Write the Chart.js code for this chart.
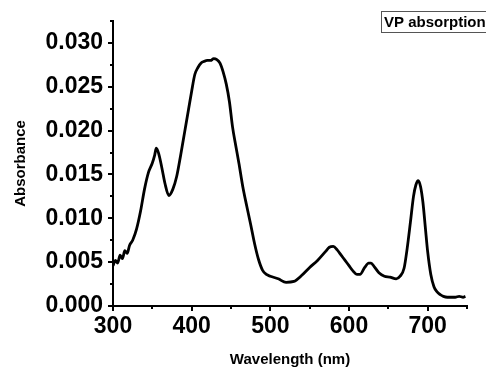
<!DOCTYPE html>
<html>
<head>
<meta charset="utf-8">
<script src="https://cdn.jsdelivr.net/npm/chart.js@4.4.1/dist/chart.umd.min.js"></script>
<style>
  html, body { margin: 0; padding: 0; background: #fff; }
  #wrap { width: 486px; height: 369px; position: relative; }
</style>
</head>
<body>
<div id="wrap"><canvas id="spectrumChart"></canvas></div>
<script>
// Spectrum data
const wavelength = [
  300, 303, 306, 309, 312, 315, 318, 321, 325, 330, 335, 340, 345, 350, 353, 355,
  358, 362, 366, 371, 376, 381, 386, 391, 396, 400, 404, 408, 412, 416, 420, 424,
  428, 432, 436, 440, 444, 448, 452, 456, 460, 465, 470, 475, 480, 485, 490, 495,
  500, 510, 520, 530, 540, 550, 560, 570, 575, 580, 585, 590, 595, 600, 605, 610,
  614, 620, 625, 628, 632, 638, 645, 652, 660, 665, 670, 674, 678, 682, 685, 688,
  691, 694, 697, 700, 704, 708, 712, 716, 720, 725, 730, 735, 740, 745, 748
];
const absorbance = [
  0.0046, 0.0052, 0.0049, 0.0058, 0.0054, 0.0063, 0.0060, 0.0069, 0.0075, 0.0088,
  0.0108, 0.0133, 0.0152, 0.0163, 0.0172, 0.0180, 0.0174, 0.0158, 0.0140, 0.0126,
  0.0133, 0.0148, 0.0172, 0.0198, 0.0224, 0.0245, 0.0264, 0.0272, 0.0277, 0.0279,
  0.0280, 0.0280, 0.0282, 0.0281, 0.0277, 0.0267, 0.0253, 0.0233, 0.0204, 0.0183,
  0.0163, 0.0136, 0.0114, 0.0093, 0.0071, 0.0053, 0.0041, 0.0036, 0.0034, 0.0031,
  0.0027, 0.0028, 0.0035, 0.0044, 0.0052, 0.0062, 0.0067, 0.0068, 0.0064, 0.0058,
  0.0052, 0.0046, 0.0040, 0.0036, 0.0036, 0.0044, 0.0049, 0.0049, 0.0045, 0.0038,
  0.0034, 0.0033, 0.0031, 0.0034, 0.0043, 0.0066, 0.0095, 0.0125, 0.0138, 0.0143,
  0.0136, 0.0118, 0.0090, 0.0062, 0.0036, 0.0022, 0.0016, 0.0013, 0.0011, 0.0010,
  0.0010, 0.0010, 0.0011, 0.0010, 0.0011
];

// Tick labels
const xTicks = [300, 400, 500, 600, 700];
const yTicks = [0, 0.005, 0.010, 0.015, 0.020, 0.025, 0.030];
const xMinorTicks = [350, 450, 550, 650, 750];
const yMinorTicks = [0.0025, 0.0075, 0.0125, 0.0175, 0.0225, 0.0275, 0.0325];

const seriesLabel = "VP absorption";
const FONT = "'Liberation Sans', Arial, sans-serif";

// Minor ticks + boxed legend
const extrasPlugin = {
  id: "extras",
  afterDraw(chart) {
    const ctx = chart.ctx;
    const x = chart.scales.x;
    const y = chart.scales.y;
    const area = chart.chartArea;
    ctx.save();
    ctx.strokeStyle = "#000";
    ctx.lineWidth = 2;
    xMinorTicks.forEach((v) => {
      const px = Math.round(x.getPixelForValue(v));
      ctx.beginPath();
      ctx.moveTo(px, area.bottom);
      ctx.lineTo(px, area.bottom + 3);
      ctx.stroke();
    });
    yMinorTicks.forEach((v) => {
      const py = Math.round(y.getPixelForValue(v));
      ctx.beginPath();
      ctx.moveTo(area.left, py);
      ctx.lineTo(area.left - 3, py);
      ctx.stroke();
    });

    // legend box
    ctx.font = "bold 15px " + FONT;
    const w = ctx.measureText(seriesLabel).width;
    const bx = 381, by = 11, bh = 21;
    ctx.lineWidth = 1;
    ctx.strokeStyle = "#555";
    ctx.strokeRect(bx + 0.5, by + 0.5, w + 8, bh);
    ctx.fillStyle = "#000";
    ctx.textBaseline = "middle";
    ctx.textAlign = "left";
    ctx.fillText(seriesLabel, bx + 3, by + bh / 2 + 1);
    ctx.restore();
  },
};

const ctx = document.getElementById("spectrumChart").getContext("2d");
new Chart(ctx, {
  type: "line",
  data: {
    datasets: [
      {
        label: seriesLabel,
        data: wavelength.map((w, i) => ({ x: w, y: absorbance[i] })),
        borderColor: "#000",
        borderWidth: 2.8,
        pointRadius: 0,
        fill: false,
        cubicInterpolationMode: "monotone",
      },
    ],
  },
  options: {
    responsive: true,
    maintainAspectRatio: false,
    animation: false,
    layout: { padding: { top: 21, right: 19, left: 0, bottom: 0 } },
    plugins: {
      legend: { display: false },
      tooltip: { enabled: false },
    },
    scales: {
      x: {
        type: "linear",
        min: 300,
        max: 750,
        afterBuildTicks: (scale) => {
          scale.ticks = xTicks.map((v) => ({ value: v }));
        },
        afterFit: (scale) => {
          scale.height = 63;
        },
        grid: {
          drawOnChartArea: false,
          drawTicks: true,
          tickLength: 5,
          color: "#000",
          lineWidth: 2,
        },
        border: { display: true, color: "#000", width: 2 },
        ticks: {
          color: "#000",
          padding: 2,
          maxRotation: 0,
          font: { family: FONT, size: 23, weight: "bold" },
        },
        title: {
          display: true,
          text: "Wavelength (nm)",
          color: "#000",
          padding: { top: 0, bottom: 0 },
          font: { family: FONT, size: 15, weight: "bold" },
        },
      },
      y: {
        min: 0,
        max: 0.0325,
        afterBuildTicks: (scale) => {
          scale.ticks = yTicks.map((v) => ({ value: v }));
        },
        afterFit: (scale) => {
          scale.width = 113;
        },
        grid: {
          drawOnChartArea: false,
          drawTicks: true,
          tickLength: 5,
          color: "#000",
          lineWidth: 2,
        },
        border: { display: true, color: "#000", width: 2 },
        ticks: {
          color: "#000",
          padding: 5,
          callback: (v) => v.toFixed(3),
          font: { family: FONT, size: 23, weight: "bold" },
        },
        title: {
          display: true,
          text: "Absorbance",
          color: "#000",
          padding: { top: 12, bottom: 0 },
          font: { family: FONT, size: 15, weight: "bold" },
        },
      },
    },
  },
  plugins: [extrasPlugin],
});
</script>
</body>
</html>
